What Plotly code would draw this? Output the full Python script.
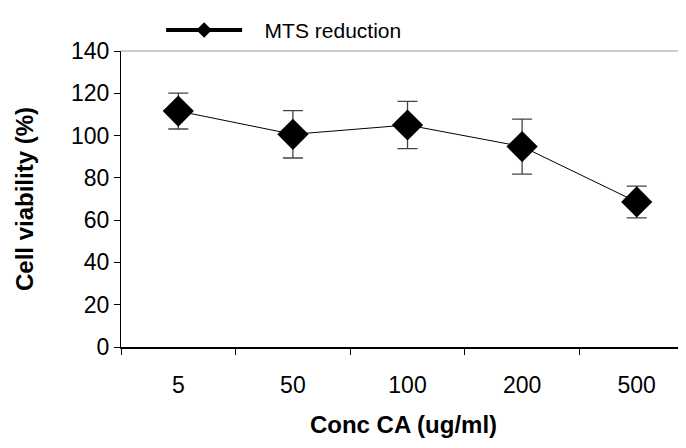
import plotly.graph_objects as go

categories = ["5", "50", "100", "200", "500"]
viability = [111.6, 100.6, 105.0, 94.8, 68.6]
error = [8.5, 11.2, 11.2, 13.0, 7.5]

xpos = list(range(len(categories)))

fig = go.Figure()
fig.add_trace(go.Scatter(
    x=xpos, y=viability, mode="lines+markers",
    line=dict(color="black", width=1),
    marker=dict(symbol="diamond", size=24, color="black"),
    error_y=dict(type="data", array=error, visible=True, color="#444", thickness=1.3, width=10),
    showlegend=False,
))
fig.add_trace(go.Scatter(
    x=[None], y=[None], mode="lines+markers", name="\u00a0\u00a0\u00a0MTS reduction",
    line=dict(color="black", width=4),
    marker=dict(symbol="diamond", size=12, color="black"),
))

font = "Liberation Sans, Arial, sans-serif"
# page body has an 8px margin, so the figure is drawn at (8, 8)
fig.update_layout(
    width=678, height=440,
    margin=dict(l=113, r=0, t=43, b=101),
    paper_bgcolor="white", plot_bgcolor="white",
    font=dict(family=font, color="black", size=22),
    legend=dict(x=0.071, y=1.139, xanchor="left", yanchor="top",
                font=dict(size=21), itemwidth=76, bgcolor="rgba(0,0,0,0)"),
    xaxis=dict(
        range=[-0.5, 4.43], tickmode="array", tickvals=xpos, ticktext=categories,
        ticks="outside", ticklen=17, tickcolor="rgba(0,0,0,0)",
        showline=True, linecolor="black", linewidth=1.5, showgrid=False, zeroline=False,
        minor=dict(tickmode="array", tickvals=[-0.5, 0.5, 1.5, 2.5, 3.5],
                   ticks="outside", ticklen=6, tickcolor="black", showgrid=False),
        tickfont=dict(size=23), tickangle=0,
        title=dict(text="<b>Conc CA (ug/ml)</b>", font=dict(size=24), standoff=19),
    ),
    yaxis=dict(
        range=[0, 140], tickmode="array", tickvals=list(range(0, 141, 20)),
        ticks="outside", ticklen=6, tickcolor="black",
        showline=True, linecolor="black", linewidth=1, showgrid=False, zeroline=False,
        tickfont=dict(size=23),
        title=dict(text="<b>Cell viability (%)</b>", font=dict(size=24), standoff=30),
    ),
    shapes=[dict(type="line", xref="paper", yref="paper", x0=0, x1=1, y0=1, y1=1,
                 line=dict(color="#999", width=1))],
)

fig.write_html("out.html")
